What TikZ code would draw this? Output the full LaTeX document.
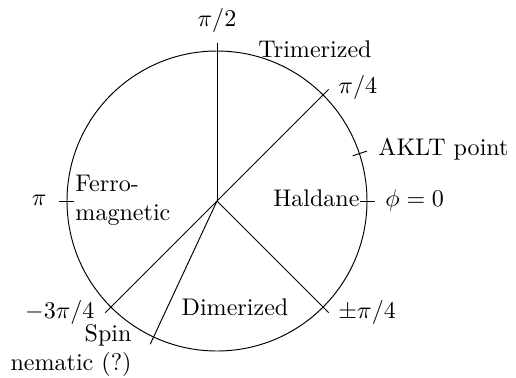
\documentclass[tikz,border=0pt]{standalone}
\begin{document}
\begin{tikzpicture}[x=0.4156pt,y=0.4156pt,
  lbl/.style={inner sep=0pt},
  bound/.style={draw=black,line width=0.4pt},
  tickmark/.style={draw=black,line width=0.4pt}]
\useasboundingbox (-217,-176) rectangle (299,201);
\coordinate (O) at (0,0);
\draw (O) circle[radius=150];
% phase boundaries
\coordinate (e90) at (90:158);
\coordinate (e45) at (45:158);
\coordinate (em45) at (-45:158);
\coordinate (em135) at (-135:158);
\coordinate (em115) at (-115:158);
\draw[bound] (O) -- (e90);
\draw[bound] (O) -- (e45);
\draw[bound] (O) -- (em45);
\draw[bound] (O) -- (em135);
\draw[bound] (O) -- (em115);
% ticks
\coordinate (t0a) at (0:143); \coordinate (t0b) at (0:158);
\coordinate (t180a) at (180:143); \coordinate (t180b) at (180:158);
\coordinate (taa) at (18.43:143); \coordinate (tab) at (18.43:158);
\draw[tickmark] (t0a) -- (t0b);
\draw[tickmark] (t180a) -- (t180b);
\draw[tickmark] (taa) -- (tab);
% labels
\node[lbl,anchor=base] (lpi2) at (0,175) {$\pi/2$};
\node[lbl,anchor=base] (ltri) at (98,144) {Trimerized};
\node[lbl,anchor=base west] (lpi4) at (121,108) {$\pi/4$};
\node[lbl,anchor=base west] (laklt) at (161,46) {AKLT point};
\node[lbl,anchor=base west] (lphi) at (168,-5) {$\phi=0$};
\node[lbl,anchor=base east] (lhal) at (143,-5) {Haldane};
\node[lbl,anchor=base east] (lpi) at (-170,-4) {$\pi$};
\node[lbl,anchor=west,align=left] (lferro) at (-142,0.5) {Ferro-\\magnetic};
\node[lbl,anchor=base east] (l3pi4) at (-122,-117) {$-3\pi/4$};
\node[lbl,anchor=east,align=right] (lspin) at (-85,-149.5) {Spin\\nematic (?)};
\node[lbl,anchor=base] (ldim) at (18,-114) {Dimerized};
\node[lbl,anchor=base west] (lpmpi4) at (121,-117) {$\pm\pi/4$};
\end{tikzpicture}
\end{document}
